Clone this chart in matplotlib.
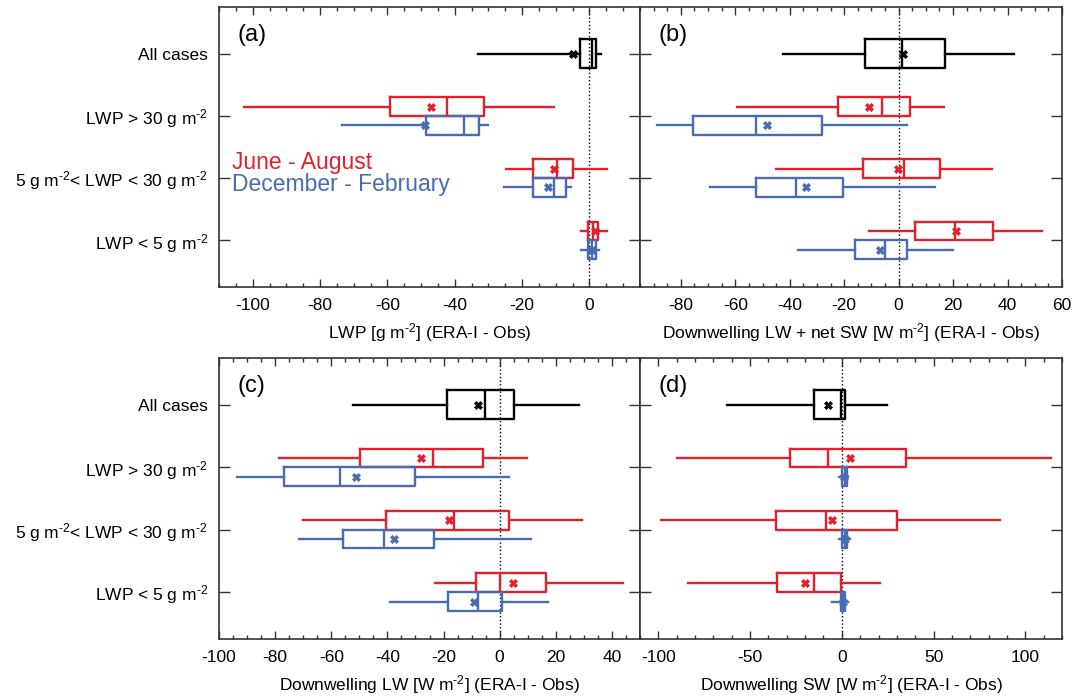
import matplotlib
matplotlib.use("Agg")
import matplotlib.pyplot as plt
from matplotlib.ticker import MultipleLocator

plt.rcParams['font.family'] = ['Liberation Sans', 'DejaVu Sans']
plt.rcParams['mathtext.fontset'] = 'custom'
plt.rcParams['mathtext.rm'] = 'Liberation Sans'
plt.rcParams['mathtext.default'] = 'regular'
plt.rcParams['axes.unicode_minus'] = False

RED = '#e3202c'
BLUE = '#4a6cb3'

# LWP classes (rows below "All cases")
classes = ['All cases', 'LWP > 30 g m$^{\\text{-}2}$',
           '5 g m$^{\\text{-}2}$< LWP < 30 g m$^{\\text{-}2}$',
           'LWP < 5 g m$^{\\text{-}2}$']

# each entry: [whisker low, q1, median, q3, whisker high, mean]
# (a) LWP
lwp_all = [-33.0, -2.7, 0.6, 2.0, 3.4, -4.8]
lwp_jja = [[-102.7, -59.1, -42.4, -31.2, -10.4, -47.2],
           [-24.9, -16.8, -9.7, -4.8, 5.3, -10.4],
           [-2.4, -0.5, 1.1, 2.4, 5.3, 1.6]]
lwp_djf = [[-73.6, -48.5, -37.4, -32.7, -30.1, -48.7],
           [-25.3, -16.7, -10.4, -6.9, -5.6, -12.2],
           [-2.4, -0.4, 0.6, 1.8, 2.9, 0.8]]

# (b) downwelling LW + net SW
net_all = [-42.6, -12.4, 1.2, 17.1, 42.5, 1.5]
net_jja = [[-59.4, -22.2, -6.2, 4.3, 16.5, -11.0],
           [-45.0, -13.0, 2.1, 15.3, 34.3, -0.2],
           [-11.0, 5.9, 20.7, 34.5, 52.6, 20.9]]
net_djf = [[-88.7, -75.4, -52.3, -28.0, 3.2, -48.3],
           [-69.2, -52.5, -37.7, -20.4, 13.3, -33.9],
           [-36.8, -16.2, -5.0, 3.1, 19.8, -6.7]]

# (c) downwelling LW
lw_all = [-52.4, -18.9, -5.4, 5.2, 28.2, -7.7]
lw_jja = [[-78.5, -49.8, -23.6, -6.1, 9.8, -28.2],
          [-69.9, -40.5, -16.4, 3.5, 29.4, -18.2],
          [-23.0, -8.6, 0.0, 16.4, 43.8, 4.9]]
lw_djf = [[-93.7, -77.0, -56.8, -30.0, 3.5, -51.1],
          [-71.5, -55.9, -41.3, -23.4, 11.1, -37.8],
          [-38.9, -18.5, -7.6, 0.7, 17.3, -9.2]]

# (d) downwelling SW
sw_all = [-62.5, -15.3, -0.2, 1.5, 24.8, -7.8]
sw_jja = [[-90.0, -28.1, -7.3, 34.8, 113.8, 4.2],
          [-98.4, -35.9, -8.4, 30.1, 86.2, -5.6],
          [-83.6, -35.5, -14.9, -0.4, 20.9, -20.2]]
sw_djf = [[-1.6, 0.2, 1.5, 2.7, 3.6, 1.1],
          [-1.6, 0.2, 1.6, 2.9, 4.2, 1.5],
          [-5.3, -0.4, 0.7, 2.0, 3.5, 0.7]]


def to_stats(row):
    lo, q1, med, q3, hi, mean = row
    return dict(whislo=lo, q1=q1, med=med, q3=q3, whishi=hi, mean=mean)


def draw_boxes(ax, rows, positions, width, color):
    props = dict(color=color, linewidth=1.7)
    ax.bxp([to_stats(r) for r in rows], positions=positions, widths=width,
           orientation='horizontal', showcaps=False, showfliers=False,
           showmeans=True, manage_ticks=False,
           boxprops=props, whiskerprops=props, medianprops=props,
           meanprops=dict(marker='X', markersize=6, markerfacecolor=color,
                          markeredgecolor=color, markeredgewidth=0.5))


def panel(ax, letter, all_row, jja, djf, xlim, major, minor, xlabel, ylabels):
    ax.axvline(0, color='k', linestyle=':', linewidth=1.0, zorder=0)
    draw_boxes(ax, [all_row], [0], 0.46, 'black')
    draw_boxes(ax, jja, [i - 0.15 for i in (1, 2, 3)], 0.3, RED)
    draw_boxes(ax, djf, [i + 0.15 for i in (1, 2, 3)], 0.3, BLUE)

    ax.set_xlim(*xlim)
    ax.set_ylim(3.75, -0.75)
    ax.xaxis.set_major_locator(MultipleLocator(major))
    ax.xaxis.set_minor_locator(MultipleLocator(minor))
    ax.set_yticks(range(4))
    if ylabels:
        ax.set_yticklabels(classes, fontsize=12.5)
    else:
        ax.set_yticklabels([])
    ax.tick_params(axis='x', which='major', direction='in', top=True,
                   length=6, width=1, labelsize=12.5, pad=8, color='#333333')
    ax.tick_params(axis='x', which='minor', direction='in', top=True,
                   length=3, width=1, color='#333333')
    ax.tick_params(axis='y', which='major', direction='in', right=True,
                   length=8, width=1, pad=8, color='#333333')
    for s in ax.spines.values():
        s.set_color('#333333')
        s.set_linewidth(1.2)
    ax.set_xlabel(xlabel, fontsize=12.5, labelpad=6)
    ax.text(0.045, 0.9, letter, transform=ax.transAxes, fontsize=17,
            va='center', ha='left')


fig = plt.figure(figsize=(10.86, 6.98), dpi=100)
W, H = 1086, 698
x_left, x_mid, x_right = 219, 640, 1062
top_rows = [(7, 287), (358, 639)]


def rect(x0, x1, y0, y1):
    return [x0 / W, 1 - y1 / H, (x1 - x0) / W, (y1 - y0) / H]


ax_a = fig.add_axes(rect(x_left, x_mid, *top_rows[0]))
ax_b = fig.add_axes(rect(x_mid, x_right, *top_rows[0]))
ax_c = fig.add_axes(rect(x_left, x_mid, *top_rows[1]))
ax_d = fig.add_axes(rect(x_mid, x_right, *top_rows[1]))

panel(ax_a, '(a)', lwp_all, lwp_jja, lwp_djf, (-110, 15), 20, 5,
      'LWP [g m$^{\\text{-}2}$] (ERA-I - Obs)', True)
panel(ax_b, '(b)', net_all, net_jja, net_djf, (-95, 60), 20, 5,
      'Downwelling LW + net SW [W m$^{\\text{-}2}$] (ERA-I - Obs)', False)
panel(ax_c, '(c)', lw_all, lw_jja, lw_djf, (-100, 50), 20, 5,
      'Downwelling LW [W m$^{\\text{-}2}$] (ERA-I - Obs)', True)
panel(ax_d, '(d)', sw_all, sw_jja, sw_djf, (-110, 120), 50, 10,
      'Downwelling SW [W m$^{\\text{-}2}$] (ERA-I - Obs)', False)

ax_a.text(0.03, 0.445, 'June - August', color=RED, fontsize=16.5,
          transform=ax_a.transAxes, va='center', ha='left')
ax_a.text(0.03, 0.365, 'December - February', color=BLUE, fontsize=16.5,
          transform=ax_a.transAxes, va='center', ha='left')

fig.savefig('out.png', dpi=100)
